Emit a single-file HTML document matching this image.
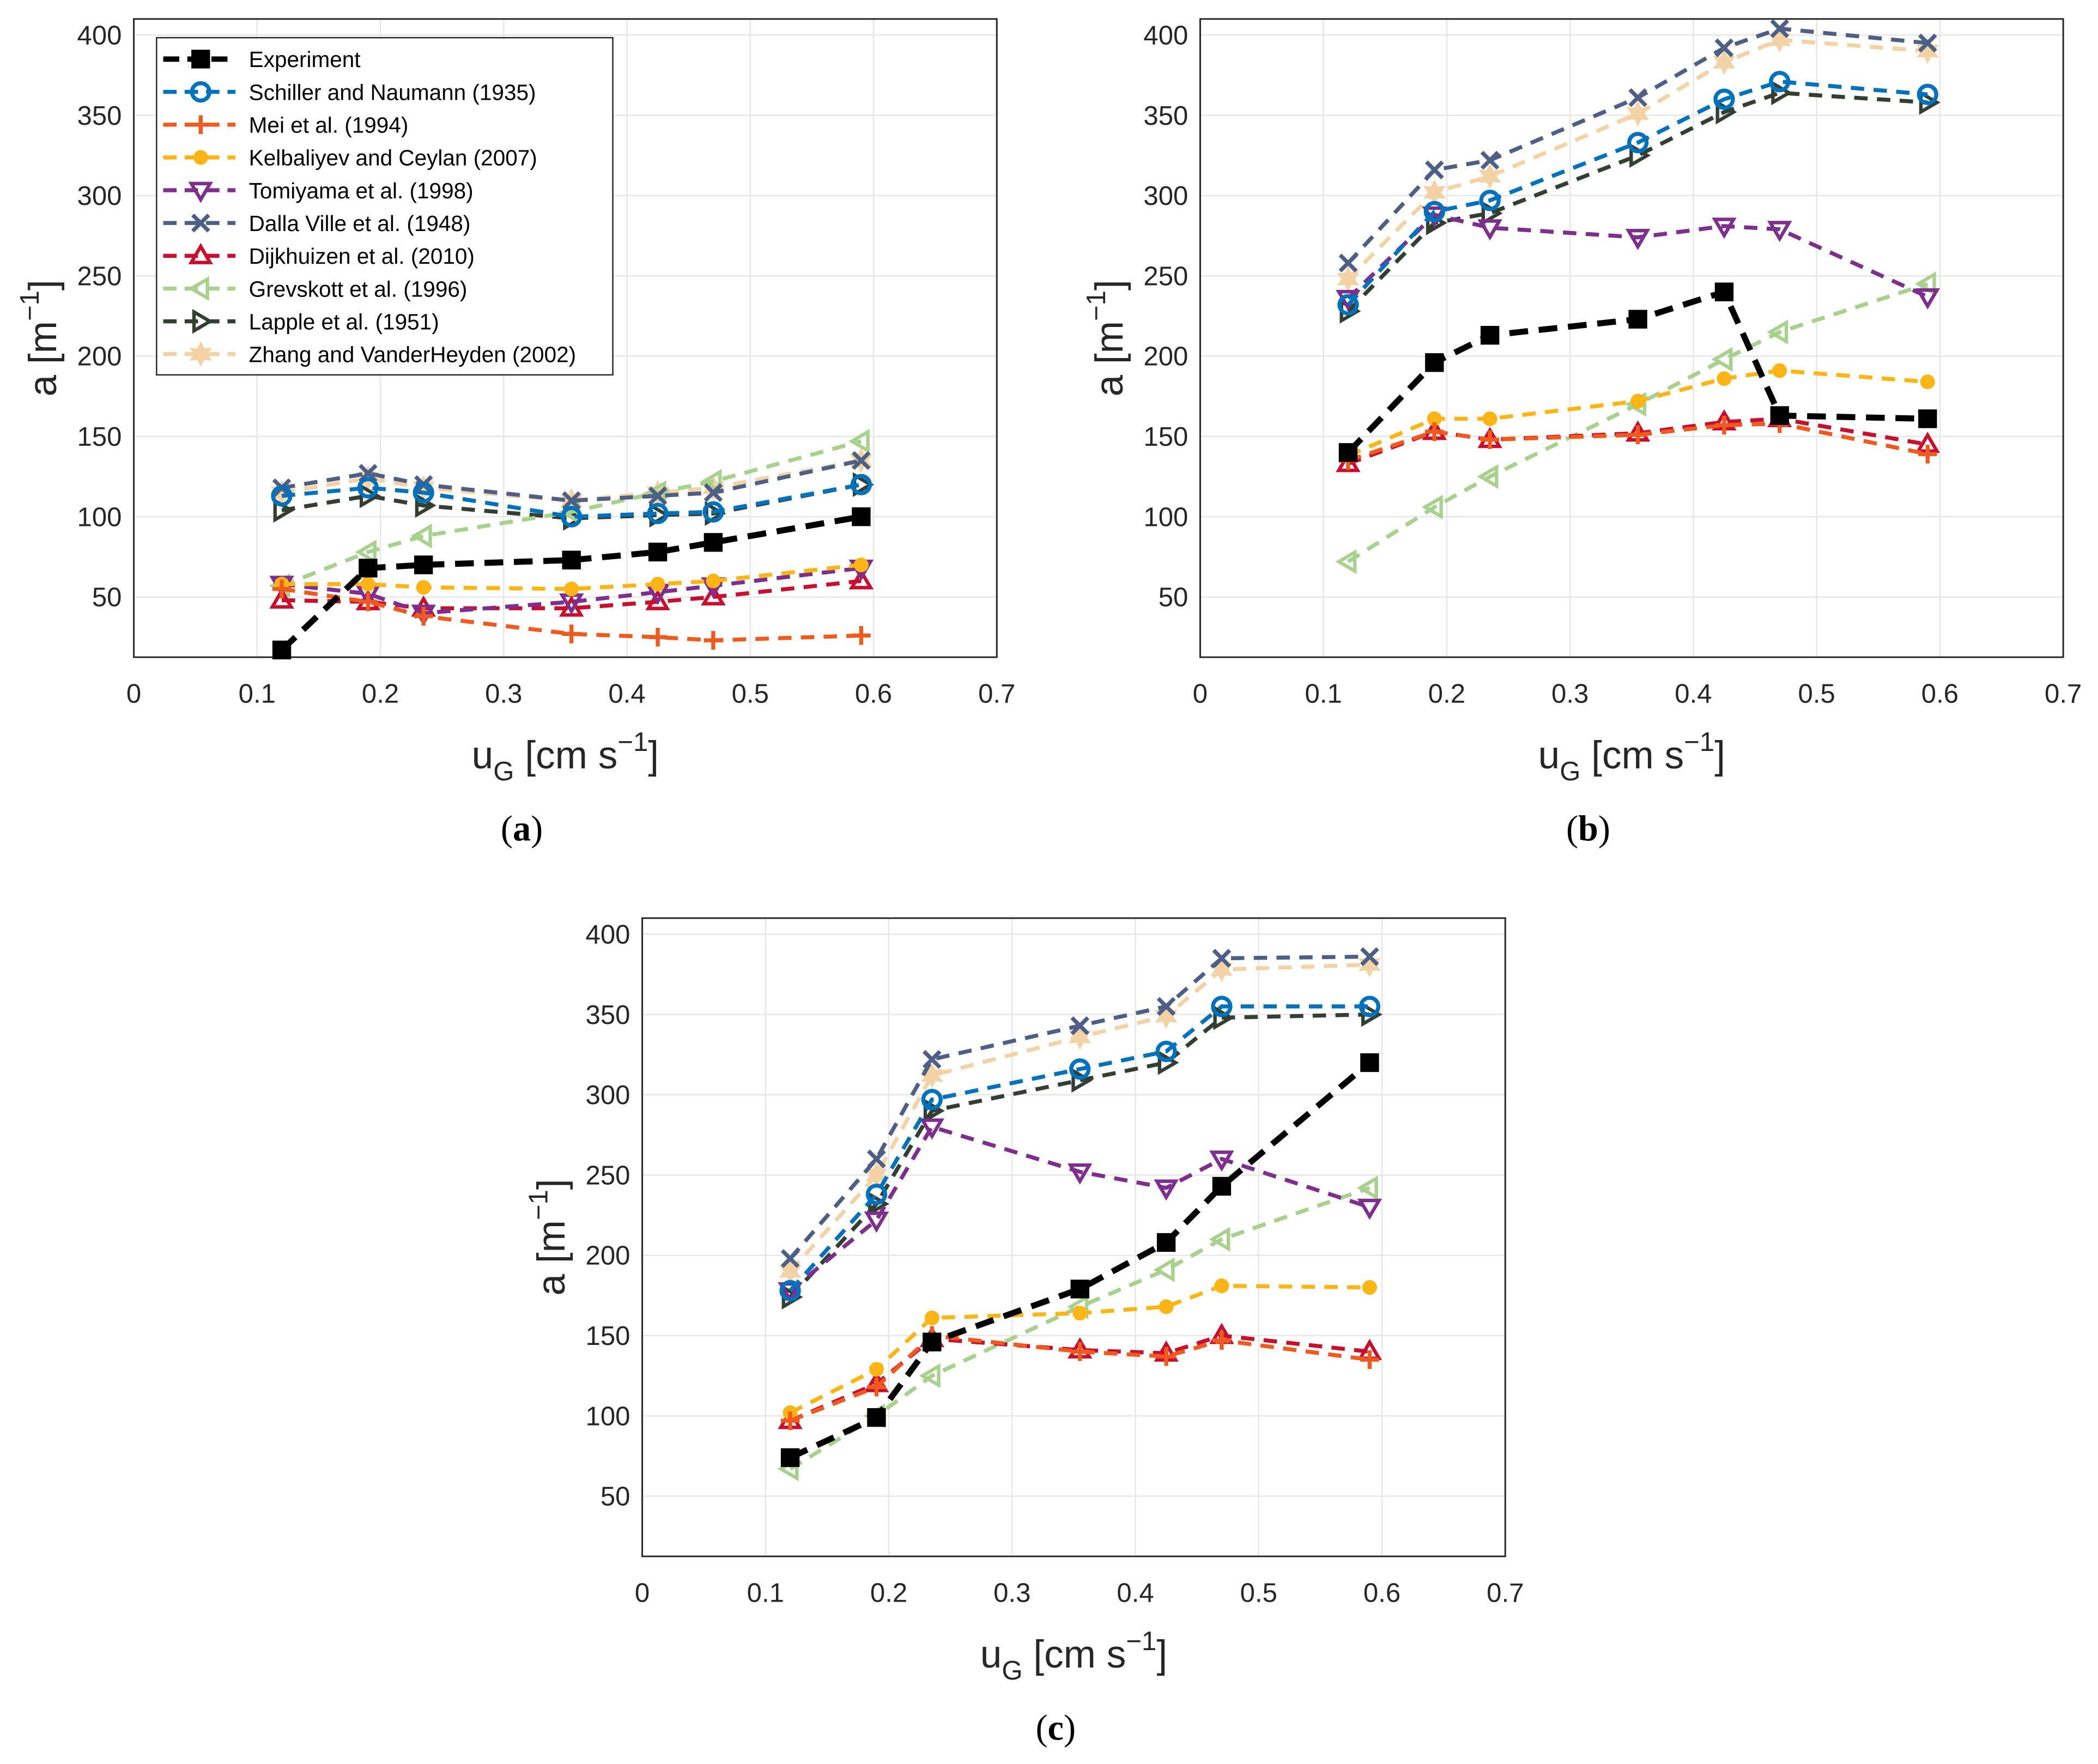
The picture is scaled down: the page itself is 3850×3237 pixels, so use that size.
<!DOCTYPE html>
<html><head><meta charset="utf-8"><style>
html,body{margin:0;padding:0;background:#fff;}
svg{display:block;font-family:"Liberation Sans",sans-serif;}
</style></head><body>
<svg id="fig" width="3850" height="3237" viewBox="0 0 1568 1318" xmlns="http://www.w3.org/2000/svg"></svg>
<script>
const xValues=[0.12,0.19,0.235,0.355,0.425,0.47,0.59];
const xTicks=[0,0.1,0.2,0.3,0.4,0.5,0.6,0.7];
const yTicksA=[50,100,150,200,250,300,350,400];
const seriesNames=["Experiment","Schiller and Naumann (1935)","Mei et al. (1994)","Kelbaliyev and Ceylan  (2007)","Tomiyama et al. (1998)","Dalla Ville et al. (1948)","Dijkhuizen et al. (2010)","Grevskott et al. (1996)","Lapple et al. (1951)","Zhang and VanderHeyden (2002)"];
const panelA=[
[17,68,70,73,78,84,100],
[113,118,115,100,102,103,120],
[55,47,38,27,25,23,26],
[58,58,56,55,58,60,70],
[58,52,40,47,53,57,68],
[118,127,120,110,113,115,135],
[48,47,43,43,47,50,60],
[57,78,88,103,115,122,147],
[104,113,107,99,101,102,120],
[115,124,118,110,115,118,135]];
const panelB=[
[140,196,213,223,240,163,161],
[232,290,297,333,360,371,363],
[135,153,148,151,157,158,139],
[138,161,161,172,186,191,184],
[236,288,280,274,281,279,237],
[258,316,322,361,392,404,395],
[133,153,148,152,159,161,145],
[72,106,125,170,198,215,245],
[228,283,289,325,352,364,358],
[248,302,312,351,383,397,390]];
const panelC=[
[74,99,146,179,208,243,320],
[178,238,297,316,327,355,355],
[97,118,150,140,137,147,135],
[102,129,161,164,168,181,180],
[178,222,280,252,242,260,230],
[198,260,322,343,355,385,386],
[97,120,148,141,139,150,140],
[67,100,125,168,191,210,242],
[174,232,290,309,320,348,350],
[190,250,312,336,349,378,381]];
const colors=["#000000","#0072BD","#F05A1E","#FDB515","#7E2F8E","#4E5F85","#C8102E","#A9D18E","#333F33","#F3D3A6"];
const markers=["sq","circ","plus","dot","tdown","x","tup","tleft","tright","star"];
const NS="http://www.w3.org/2000/svg";
const svg=document.getElementById('fig');
function el(t,a,p){const e=document.createElementNS(NS,t);for(const k in a)e.setAttribute(k,a[k]);(p||svg).appendChild(e);return e;}
function marker(g,type,x,y,c){
  let m;const r=7;
  if(type==="sq")m=el('rect',{x:x-7,y:y-7,width:14,height:14,fill:c},g);
  else if(type==="circ")m=el('circle',{cx:x,cy:y,r:6.5,fill:'none',stroke:c,'stroke-width':3},g);
  else if(type==="plus")m=el('path',{d:`M${x-7} ${y}H${x+7}M${x} ${y-7}V${y+7}`,stroke:c,'stroke-width':3},g);
  else if(type==="dot")m=el('circle',{cx:x,cy:y,r:5.5,fill:c},g);
  else if(type==="x")m=el('path',{d:`M${x-6} ${y-6}L${x+6} ${y+6}M${x-6} ${y+6}L${x+6} ${y-6}`,stroke:c,'stroke-width':3},g);
  else if(type==="star"){let pts=[];for(let i=0;i<12;i++){const a=Math.PI/6*i-Math.PI/2;const rr=i%2?4.5:8.5;pts.push((x+rr*Math.cos(a)).toFixed(1)+","+(y+rr*Math.sin(a)).toFixed(1));}m=el('polygon',{points:pts.join(' '),fill:c,stroke:c,'stroke-width':1},g);}
  else{let d;
    if(type==="tdown")d=`M${x-r} ${y-5}L${x+r} ${y-5}L${x} ${y+7}Z`;
    if(type==="tup")d=`M${x-r} ${y+5}L${x+r} ${y+5}L${x} ${y-7}Z`;
    if(type==="tleft")d=`M${x+5} ${y-r}L${x+5} ${y+r}L${x-7} ${y}Z`;
    if(type==="tright")d=`M${x-5} ${y-r}L${x-5} ${y+r}L${x+7} ${y}Z`;
    m=el('path',{d:d,fill:'none',stroke:c,'stroke-width':2.6,'stroke-linejoin':'miter'},g);}
  
  
}
function panel(id,L,T,R,B,data,label,lx,ly,legend){
  const g=el('g',{});
  
  
  const sx=v=>L+(R-L)*v/0.7;
  const sy=v=>(T+12)+(400-v)*1.2;
  xTicks.forEach(t=>{const ln=el('line',{x1:sx(t),x2:sx(t),y1:T,y2:B,stroke:'#e6e6e6','stroke-width':1},g);
    const tx=el('text',{x:sx(t),y:B+34,'font-size':20,'text-anchor':'middle',fill:'#262626'},g);tx.textContent=String(t);});
  yTicksA.forEach(t=>{const ln=el('line',{x1:L,x2:R,y1:sy(t),y2:sy(t),stroke:'#e6e6e6','stroke-width':1},g);
    const tx=el('text',{x:L-9,y:sy(t)+7,'font-size':20,'text-anchor':'end',fill:'#262626'},g);tx.textContent=String(t);});
  const box=el('rect',{x:L,y:T,width:R-L,height:B-T,fill:'none',stroke:'#262626','stroke-width':1.2},g);
  
  const xl=el('text',{x:(L+R)/2,y:B+83,'font-size':29,'text-anchor':'middle',fill:'#262626'},g);
  xl.innerHTML='u<tspan font-size="20" dy="9">G</tspan><tspan dy="-9"> [cm s</tspan><tspan font-size="20" dy="-13">−1</tspan><tspan dy="13">]</tspan>';
  
  const yl=el('text',{x:0,y:0,'font-size':29,'text-anchor':'middle',fill:'#262626',transform:`translate(${L-58},${(T+B)/2}) rotate(-90)`},g);
  yl.innerHTML='a [m<tspan font-size="20" dy="-13">−1</tspan><tspan dy="13">]</tspan>';
  
  for(let s=data.length-1;s>=0;s--){
    const sg=el('g',{},g);
    
    
    const pts=data[s].map((v,i)=>sx(xValues[i]).toFixed(1)+','+sy(v).toFixed(1)).join(' ');
    const pl=el('polyline',{points:pts,fill:'none',stroke:colors[s],'stroke-width':s===0?4.5:3,'stroke-dasharray':s===0?'14,8':'10,7'},sg);
    
    data[s].forEach((v,i)=>marker(sg,markers[s],sx(xValues[i]),sy(v),colors[s]));
  }
  if(legend){
    const lg=el('g',{},g);
    
    el('rect',{x:117,y:28,width:341,height:252,fill:'#fff',stroke:'#262626','stroke-width':1},lg);
    seriesNames.forEach((n,i)=>{const y=44+i*24.5;
      const en=el('g',{},lg);
      el('line',{x1:122,x2:176,y1:y,y2:y,stroke:colors[i],'stroke-width':i===0?4:3,'stroke-dasharray':i===0?'12,6':'10,6'},en);
      marker(en,markers[i],150,y,colors[i]);
      const t=el('text',{x:186,y:y+6,'font-size':16.5,fill:'#000'},en);t.textContent=n;});
  }
  const pl=el('text',{x:lx,y:ly,'font-size':27,'font-family':'"Liberation Serif",serif','font-weight':'normal','text-anchor':'middle',fill:'#000'});
  pl.innerHTML='(<tspan font-weight="bold">'+label+'</tspan>)';
  
}
panel('a',100,14,745,491,panelA,'a',390,628,true);
panel('b',897,14,1542,491,panelB,'b',1187,628,false);
panel('c',480,686,1125,1163,panelC,'c',789,1300,false);
</script>
</body></html>
